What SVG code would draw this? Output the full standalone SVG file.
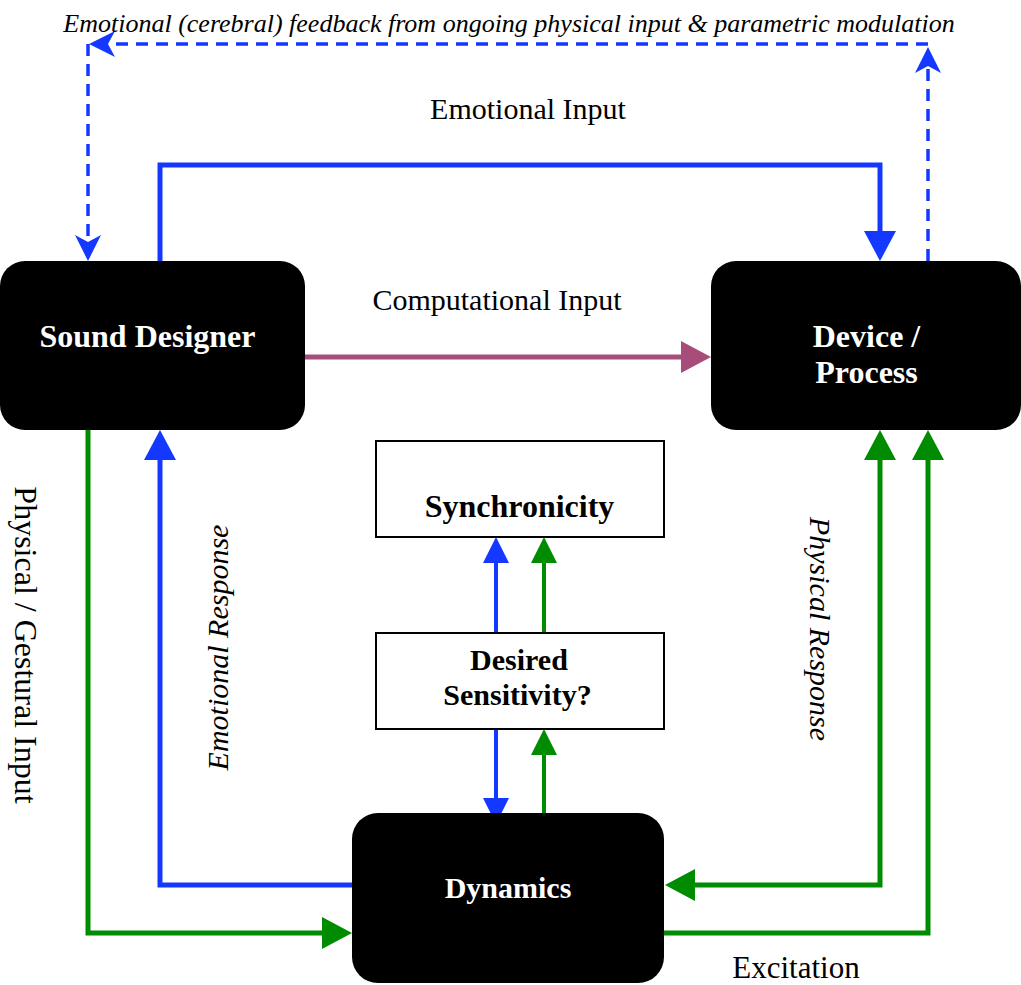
<svg xmlns="http://www.w3.org/2000/svg" width="1021" height="985" viewBox="0 0 1021 985">
<style>
  .node { fill: #000; }
  .box { fill: #fff; stroke: #000; stroke-width: 2; }
  .nlabel { font-family: "Liberation Serif", "Times New Roman", serif; font-weight: bold; fill: #fff; text-anchor: middle; }
  .blabel { font-family: "Liberation Serif", "Times New Roman", serif; font-weight: bold; fill: #000; text-anchor: middle; }
  .lbl { font-family: "Liberation Serif", "Times New Roman", serif; fill: #000; text-anchor: middle; font-size: 30px; }
  .it { font-style: italic; }
  .c { fill: none; stroke-linejoin: miter; stroke-linecap: butt; }
  .blue { stroke: #1438ff; }
  .green { stroke: #008c00; }
  .purple { stroke: #a64d79; }
  .w5 { stroke-width: 5; }
  .w4 { stroke-width: 4; }
  .dash { stroke-width: 3.5; stroke-dasharray: 12 8; }
</style>
<defs>
  <marker id="ahBlue" markerUnits="userSpaceOnUse" viewBox="0 0 30 32" markerWidth="30" markerHeight="32" refX="0" refY="16" orient="auto-start-reverse"><path d="M0,0 L30,16 L0,32 z" fill="#1438ff"/></marker>
  <marker id="ahGreen" markerUnits="userSpaceOnUse" viewBox="0 0 30 32" markerWidth="30" markerHeight="32" refX="0" refY="16" orient="auto-start-reverse"><path d="M0,0 L30,16 L0,32 z" fill="#008c00"/></marker>
  <marker id="ahPurple" markerUnits="userSpaceOnUse" viewBox="0 0 30 32" markerWidth="30" markerHeight="32" refX="0" refY="16" orient="auto-start-reverse"><path d="M0,0 L30,16 L0,32 z" fill="#a64d79"/></marker>
  <marker id="ahBlueS" markerUnits="userSpaceOnUse" viewBox="0 0 26 26" markerWidth="26" markerHeight="26" refX="0" refY="13" orient="auto"><path d="M0,0 L26,13 L0,26 z" fill="#1438ff"/></marker>
  <marker id="ahGreenS" markerUnits="userSpaceOnUse" viewBox="0 0 26 26" markerWidth="26" markerHeight="26" refX="0" refY="13" orient="auto"><path d="M0,0 L26,13 L0,26 z" fill="#008c00"/></marker>
  <marker id="ahDash" markerUnits="userSpaceOnUse" viewBox="0 0 26 26" markerWidth="26" markerHeight="26" refX="7" refY="13" orient="auto"><path d="M0,0 L26,13 L0,26 L7,13 z" fill="#1438ff"/></marker>
</defs>

<g id="connectors">
  <!-- emotional feedback (dashed) -->
  <path class="c blue dash" d="M928,261 V66" marker-end="url(#ahDash)"/>
  <path class="c blue dash" d="M928,44 H108" marker-end="url(#ahDash)"/>
  <path class="c blue dash" d="M88,44 V242" marker-end="url(#ahDash)"/>
  <!-- emotional input -->
  <path class="c blue w5" d="M160,261 V165 H880 V231" marker-end="url(#ahBlue)"/>
  <!-- computational input -->
  <path class="c purple w5" d="M305,357 H681" marker-end="url(#ahPurple)"/>
  <!-- physical / gestural input -->
  <path class="c green w5" d="M88,430 V933 H322" marker-end="url(#ahGreen)"/>
  <!-- emotional response -->
  <path class="c blue w5" d="M352,885 H160 V460" marker-end="url(#ahBlue)"/>
  <!-- physical response -->
  <path class="c green w5" d="M880,460 V885 H695" marker-start="url(#ahGreen)" marker-end="url(#ahGreen)"/>
  <!-- excitation -->
  <path class="c green w5" d="M664,933 H928 V460" marker-end="url(#ahGreen)"/>
  <!-- center arrows -->
  <path class="c blue w4" d="M496,633 V563" marker-end="url(#ahBlueS)"/>
  <path class="c green w4" d="M544,633 V563" marker-end="url(#ahGreenS)"/>
  <path class="c blue w4" d="M496,729 V798" marker-end="url(#ahBlueS)"/>
  <path class="c green w4" d="M544,824 V755" marker-end="url(#ahGreenS)"/>
</g>

<g id="sound-designer">
  <rect class="node" x="0" y="261" width="305" height="169" rx="25" ry="25"/>
  <text class="nlabel" x="147.5" y="347" font-size="32">Sound Designer</text>
</g>
<g id="device-process">
  <rect class="node" x="711" y="261" width="310" height="169" rx="25" ry="25"/>
  <text class="nlabel" x="866.5" y="347" font-size="32">Device /</text>
  <text class="nlabel" x="866.5" y="383" font-size="32">Process</text>
</g>
<g id="dynamics">
  <rect class="node" x="352" y="813" width="312" height="170" rx="26" ry="26"/>
  <text class="nlabel" x="508" y="898" font-size="30">Dynamics</text>
</g>
<g id="synchronicity">
  <rect class="box" x="376" y="441" width="288" height="96"/>
  <text class="blabel" x="519.5" y="517" font-size="32">Synchronicity</text>
</g>
<g id="desired-sensitivity">
  <rect class="box" x="376" y="633" width="288" height="96"/>
  <text class="blabel" x="519" y="670" font-size="30">Desired</text>
  <text class="blabel" x="517.5" y="705" font-size="30">Sensitivity?</text>
</g>

<g id="labels">
  <text class="lbl it" x="509" y="32" font-size="26" style="font-size:26px">Emotional (cerebral) feedback from ongoing physical input &amp; parametric modulation</text>
  <text class="lbl" x="528" y="119">Emotional Input</text>
  <text class="lbl" x="497" y="310">Computational Input</text>
  <text class="lbl" x="796" y="978" style="font-size:31px">Excitation</text>
  <text class="lbl" transform="translate(15,645) rotate(90)" style="font-size:32px">Physical / Gestural Input</text>
  <text class="lbl it" transform="translate(228,647.5) rotate(-90)">Emotional Response</text>
  <text class="lbl it" transform="translate(810,629) rotate(90)">Physical Response</text>
</g>
</svg>
